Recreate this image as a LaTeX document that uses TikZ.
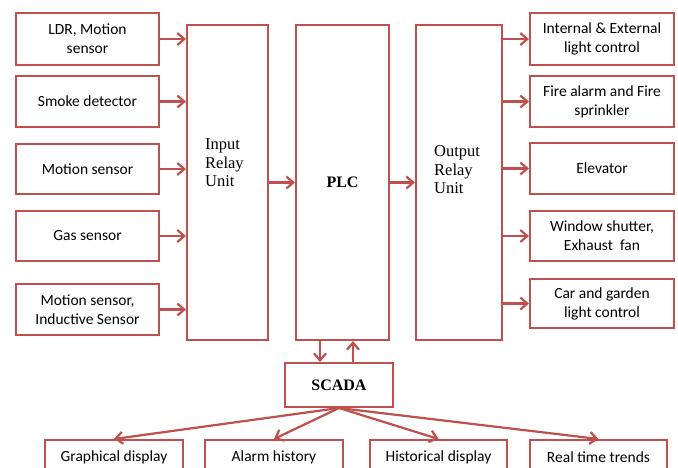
\documentclass[tikz,border=0pt]{standalone}
\usepackage{fontspec}
\setmainfont{Liberation Serif}
\newfontfamily\boxfont{Carlito}
\newfontfamily\relfont{Liberation Serif}
\usetikzlibrary{arrows.meta}
\definecolor{bred}{RGB}{192,80,77}
\tikzset{
  box/.style={draw=bred,line width=2pt,fill=white,inner sep=0pt,align=center,
    font=\boxfont\fontsize{15.5}{19}\selectfont},
  relay/.style={draw=bred,line width=2pt,fill=white,inner sep=0pt,
    font=\relfont\bfseries\fontsize{16}{18.5}\selectfont},
  reltext/.style={inner sep=0pt,align=left,anchor=north west,
    font=\relfont\fontsize{16.5}{18.5}\selectfont},
  arr/.style={draw=bred,line width=2.2pt,-{Straight Barb[length=7pt,width=12pt]}},
}
\begin{document}
\begin{tikzpicture}[x=1pt,y=-1pt]
\fill[white] (0,0) rectangle (678,467);
\useasboundingbox (0,0) rectangle (678,467);
\clip (0,0) rectangle (678,467);
% left inputs
\node[box,minimum width=143,minimum height=52] (l1) at (87.5,39) {LDR, Motion\\sensor};
\node[box,minimum width=143,minimum height=51] (l2) at (87.5,101.5) {Smoke detector};
\node[box,minimum width=143,minimum height=50] (l3) at (87.5,169) {Motion sensor};
\node[box,minimum width=143,minimum height=50] (l4) at (87.5,236) {Gas sensor};
\node[box,minimum width=143,minimum height=51] (l5) at (87.5,309.5) {Motion sensor,\\Inductive Sensor};
% relays and PLC
\node[relay,minimum width=81,minimum height=315] (inr) at (227.5,182.5) {};
\node[relay,minimum width=93,minimum height=315] (plc) at (342.5,182.5) {PLC};
\node[relay,minimum width=86,minimum height=315] (outr) at (459,182.5) {};
\node[reltext,xshift=19pt,yshift=-114.5pt] (inrt) at (inr.north west) {Input\\Relay\\Unit};
\node[reltext,xshift=19pt,yshift=-121.5pt] (outrt) at (outr.north west) {Output\\Relay\\Unit};
% right outputs
\node[box,minimum width=144,minimum height=52] (r1) at (602,39) {Internal \& External\\light control};
\node[box,minimum width=144,minimum height=51] (r2) at (602,101.5) {Fire alarm and Fire\\sprinkler};
\node[box,minimum width=144,minimum height=51] (r3) at (602,168.5) {Elevator};
\node[box,minimum width=144,minimum height=50] (r4) at (602,236) {Window shutter,\\Exhaust\ \ fan};
\node[box,minimum width=144,minimum height=49] (r5) at (602,303.5) {Car and garden\\light control};
% SCADA
\node[relay,minimum width=108,minimum height=44] (scada) at (339,385) {SCADA};
% bottom
\node[box,minimum width=138,minimum height=35] (b1) at (114,457.5) {Graphical display};
\node[box,minimum width=138,minimum height=35] (b2) at (274,457.5) {Alarm history};
\node[box,minimum width=137,minimum height=35] (b3) at (438.5,457.5) {Historical display};
\node[box,minimum width=137,minimum height=35] (b4) at (598.5,457.5) {Real time trends};
% connectors
\foreach \n in {l1,l2,l3,l4,l5} \draw[arr] (\n.east) -- (\n.east -| inr.west);
\draw[arr] (inr.east) -- (plc.west);
\draw[arr] (plc.east) -- (outr.west);
\foreach \n in {r1,r2,r3,r4,r5} \draw[arr] (outr.east |- \n.west) -- (\n.west);
\coordinate (dn) at ([xshift=-19pt]scada.north);
\coordinate (up) at ([xshift=14pt]scada.north);
\draw[arr] (dn |- plc.south) -- (dn);
\draw[arr] (up) -- (up |- plc.south);
\foreach \n in {b1,b2,b3,b4} \draw[arr] (scada.south) -- (\n.north);
\end{tikzpicture}
\end{document}
